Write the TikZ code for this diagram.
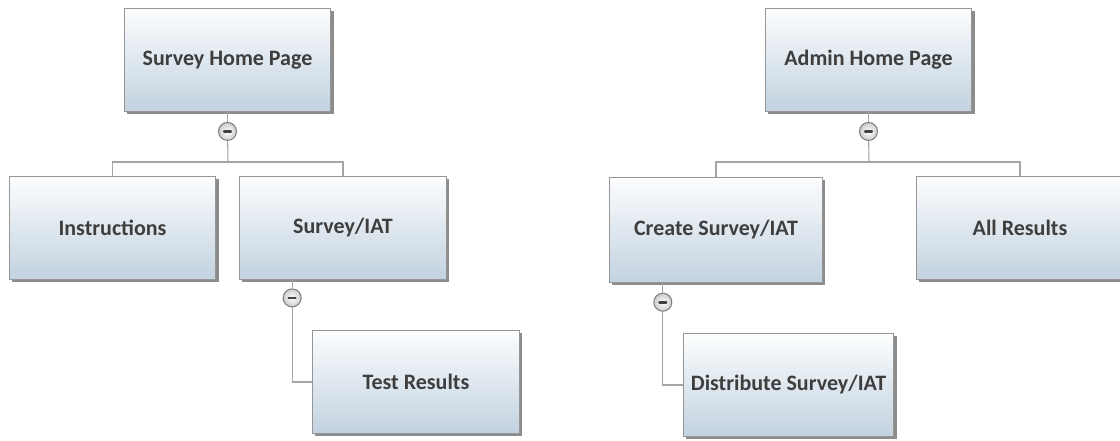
\documentclass[tikz,border=0pt]{standalone}
\usepackage{fontspec}
\setmainfont{Carlito}
\usepackage[usenames,dvipsnames]{xcolor}
\usepackage{tikz}
\usetikzlibrary{positioning,shapes,shadows,arrows,calc}
\definecolor{boxtop}{RGB}{252,253,254}
\definecolor{boxbottom}{RGB}{194,210,223}
\definecolor{boxline}{RGB}{150,150,150}
\definecolor{linkgray}{RGB}{165,165,165}
\definecolor{labelgray}{RGB}{62,62,62}

\begin{document}
\begin{tikzpicture}[x=0.75pt,y=-0.75pt,
    page/.style={draw=boxline, line width=0.8pt, top color=boxtop, bottom color=boxbottom,
        minimum width=155pt, minimum height=77pt, inner sep=0pt, text=labelgray,
        font=\bfseries\fontsize{16.5}{19}\selectfont,
        drop shadow={shadow xshift=2pt, shadow yshift=-2pt, opacity=0.45, fill=black}},
    toggle/.style={circle, draw=gray, line width=0.8pt, inner color=white, outer color=gray!40,
        minimum size=13.5pt, inner sep=0pt,
        path picture={\draw[line width=2pt, line cap=round, black!75]
            ($(path picture bounding box.center)+(-2.5pt,0)$) -- ($(path picture bounding box.center)+(2.5pt,0)$);}},
    link/.style={draw=linkgray, line width=0.8pt}]
\useasboundingbox (0,0) rectangle (1120,440);

\node[page] (shp) at (227.5,60) {Survey Home Page};
\node[page] (instr) at (112.5,228) {Instructions};
\node[page] (sviat) at (343,228) {Survey/IAT};
\node[page] (tres) at (416,382) {Test Results};

\node[page] (ahp) at (868.5,60) {Admin Home Page};
\node[page, minimum width=160pt, minimum height=79pt] (csiat) at (716,230) {Create Survey/IAT};
\node[page] (allres) at (1020,228) {All Results};
\node[page, minimum width=158pt] (dsiat) at (788.5,385) {Distribute Survey/IAT};

\node[toggle, below=7.5pt of shp] (shptog) {};
\node[toggle, below=7.5pt of ahp] (ahptog) {};
\node[toggle] (svtog) at ($(sviat.south west)+(53,18)$) {};
\node[toggle] (cstog) at ($(csiat.south west)+(54,19)$) {};

\coordinate (lbar) at (228,162);
\coordinate (rbar) at (869,162);

\draw[link] (shp) -- (shptog);
\draw[link] (shptog) -- (lbar);
\draw[link] (instr.north) |- (lbar) -| (sviat.north);
\draw[link] (sviat.south -| svtog) -- (svtog);
\draw[link] (svtog) |- (tres.west);

\draw[link] (ahp) -- (ahptog);
\draw[link] (ahptog) -- (rbar);
\draw[link] (csiat.north) |- (rbar) -| (allres.north);
\draw[link] (csiat.south -| cstog) -- (cstog);
\draw[link] (cstog) |- (dsiat.west);
\end{tikzpicture}
\end{document}
